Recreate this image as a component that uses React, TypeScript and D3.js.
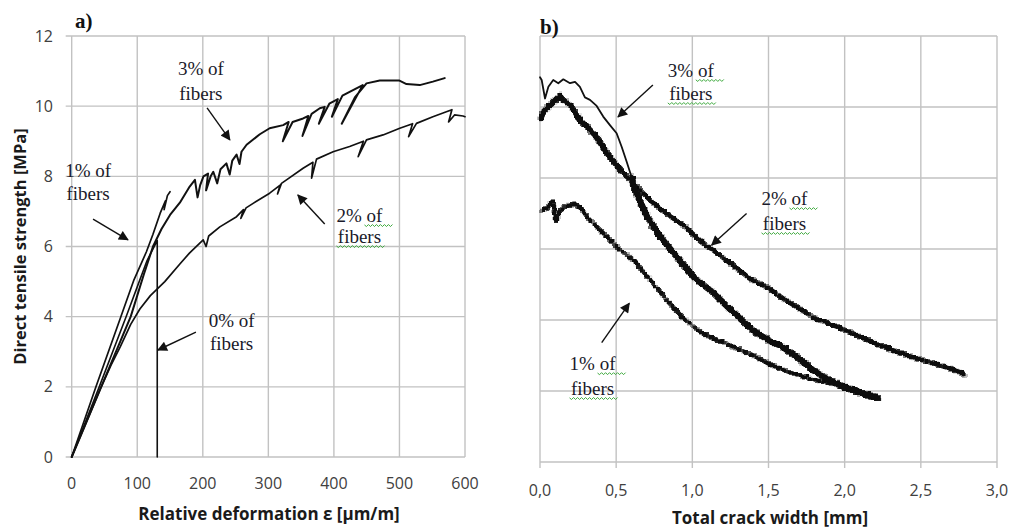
import React from 'react';
import * as d3 from 'd3';

type P = [number, number];

// ---------- Panel a) : strength vs relative deformation ----------
const aXTicks = [0, 100, 200, 300, 400, 500, 600];
const aYTicks = [0, 2, 4, 6, 8, 10, 12];

const a0pct: P[] = [[0, 0], [42, 2.0], [83, 4.0], [100, 4.85], [115, 5.6], [130.5, 6.17], [130.5, 0]];

const a1pct: P[] = [[0, 0], [37, 2.0], [75, 4.0], [95, 5.05], [114, 5.85], [124, 6.35], [135, 6.95], [143, 7.3], [141, 7.05], [146, 7.45], [150, 7.56]];

const a2pct: P[] = [
  [0, 0], [43, 1.91], [60, 2.62], [74, 3.14], [90, 3.78], [104, 4.22], [120, 4.6], [142, 5.0], [165, 5.5], [180, 5.82],
  [200.6, 6.19], [205, 6.0], [209, 6.3], [226, 6.56], [251.5, 6.85], [262, 7.05], [258, 6.8], [266, 7.1], [276.8, 7.23],
  [302, 7.52], [318, 7.75], [314, 7.5], [320, 7.8], [327.7, 7.9], [353, 8.23], [368, 8.4], [366, 7.95], [373.5, 8.49],
  [398.8, 8.7], [424, 8.85], [445, 9.0], [437, 8.56], [449.7, 9.04], [475, 9.18], [500.5, 9.37], [520, 9.5],
  [514, 9.13], [526, 9.51], [551, 9.7], [571.6, 9.84], [580, 9.9], [575, 9.55], [584, 9.75], [597, 9.72], [600, 9.7],
];

const a3pct: P[] = [
  [0, 0], [45, 2.0], [90, 4.0], [110, 5.2], [124, 6.0], [137, 6.5], [150, 6.9], [165, 7.25], [180, 7.71], [188, 7.9], [192, 7.4],
  [196, 7.75], [201, 8.0], [208, 8.08], [205, 7.6], [212, 8.0], [216, 8.13], [222, 7.8], [227, 8.2], [236, 8.37],
  [241, 8.05], [245, 8.45], [251.5, 8.62], [256, 8.35], [259, 8.7], [266.8, 8.9], [287, 9.2], [302, 9.37],
  [322.6, 9.46], [331, 9.55], [322, 9.0], [337, 9.55], [353, 9.65], [361, 9.72], [352, 9.15], [366, 9.78],
  [378.5, 9.94], [386, 9.98], [377, 9.5], [393, 10.07], [398.8, 10.13], [406, 10.2], [397, 9.7], [413, 10.3],
  [424, 10.41], [444, 10.6], [412, 9.5], [432, 10.25], [449.7, 10.65], [470, 10.73], [500, 10.73],
  [510.7, 10.63], [531, 10.6], [551, 10.7], [569, 10.8],
];

// ---------- Panel b) : strength vs total crack width ----------
const bXTicks = [0, 0.5, 1.0, 1.5, 2.0, 2.5, 3.0];
const bXTickLabels = ['0,0', '0,5', '1,0', '1,5', '2,0', '2,5', '3,0'];
const bYTicks = [0, 2, 4, 6, 8, 10, 12];

const b1pct: P[] = [
  [0, 7.1], [0.044, 7.19], [0.077, 7.38], [0.098, 6.82], [0.12, 7.1], [0.164, 7.24], [0.219, 7.29], [0.262, 7.19],
  [0.306, 6.91], [0.394, 6.54], [0.503, 6.06], [0.612, 5.69], [0.722, 5.13], [0.831, 4.56], [0.94, 4.05],
  [1.07, 3.62], [1.225, 3.34], [1.4, 3.01], [1.51, 2.76], [1.64, 2.54], [1.77, 2.37], [1.9, 2.26], [2.01, 2.08],
  [2.12, 1.92], [2.2, 1.82],
];

const b2pct: P[] = [
  [0, 9.73], [0.022, 9.92], [0.066, 10.1], [0.12, 10.34], [0.153, 10.2], [0.197, 10.06], [0.262, 9.63],
  [0.35, 9.26], [0.438, 8.7], [0.525, 8.23], [0.612, 7.85], [0.722, 7.38], [0.831, 7.0], [0.94, 6.68],
  [1.05, 6.25], [1.137, 5.97], [1.268, 5.55], [1.378, 5.17], [1.488, 4.94], [1.597, 4.61], [1.793, 4.09],
  [2.012, 3.72], [2.231, 3.3], [2.45, 2.97], [2.669, 2.68], [2.767, 2.54], [2.78, 2.45],
];

const b3pct: P[] = [
  [0, 10.84], [0.011, 10.76], [0.033, 10.24], [0.055, 10.57], [0.087, 10.76], [0.12, 10.67], [0.153, 10.78],
  [0.197, 10.67], [0.23, 10.71], [0.262, 10.57], [0.295, 10.27], [0.328, 10.2], [0.372, 10.03], [0.415, 9.73],
  [0.459, 9.49], [0.503, 9.26], [0.536, 8.88], [0.569, 8.46], [0.6, 8.04], [0.612, 7.75], [0.7, 6.91],
  [0.787, 6.35], [0.897, 5.78], [1.006, 5.22], [1.115, 4.85], [1.225, 4.4], [1.312, 4.05], [1.4, 3.7],
  [1.51, 3.42], [1.575, 3.3], [1.684, 2.97], [1.793, 2.59], [1.9, 2.31], [2.01, 2.12], [2.12, 1.94], [2.21, 1.84],
];

// ---------- annotations (data coordinates) ----------
type Note = { l1: string; l2: string; tx: number; ty1: number; ty2: number; ax1: number; ay1: number; ax2: number; ay2: number; wavy: boolean };
const aNotes: Note[] = [
  { l1: '3% of', l2: 'fibers', tx: 197, ty1: 10.89, ty2: 10.18, ax1: 206.5, ay1: 9.95, ax2: 241.3, ay2: 9.04, wavy: false },
  { l1: '1% of', l2: 'fibers', tx: 25, ty1: 7.98, ty2: 7.33, ax1: 32.6, ay1: 6.78, ax2: 85.8, ay2: 6.19, wavy: false },
  { l1: '2% of', l2: 'fibers', tx: 439, ty1: 6.7, ty2: 6.1, ax1: 386, ay1: 6.64, ax2: 345, ay2: 7.47, wavy: true },
  { l1: '0% of', l2: 'fibers', tx: 244, ty1: 3.71, ty2: 3.05, ax1: 189.5, ay1: 3.56, ax2: 131.6, ay2: 3.05, wavy: false },
];
const bNotes: Note[] = [
  { l1: '3% of', l2: 'fibers', tx: 0.99, ty1: 10.85, ty2: 10.2, ax1: 0.741, ay1: 10.62, ax2: 0.512, ay2: 9.72, wavy: true },
  { l1: '2% of', l2: 'fibers', tx: 1.605, ty1: 7.24, ty2: 6.54, ax1: 1.356, ay1: 7.0, ax2: 1.127, ay2: 6.11, wavy: true },
  { l1: '1% of', l2: 'fibers', tx: 0.345, ty1: 2.59, ty2: 1.89, ax1: 0.405, ay1: 3.36, ax2: 0.586, ay2: 4.47, wavy: true },
];

// ---------- layout / style ----------
const W = 1013, H = 528;
const PA = { x0: 71.7, x1: 465, y0: 457, y1: 36 };
const PB = { x0: 540, x1: 997, y0: 462, y1: 36 };
const GRID = '#c2c2c2';
const TICK_FONT = "'Open Sans', 'DejaVu Sans', sans-serif";
const SERIF = "'Liberation Serif', 'DejaVu Serif', serif";
const INK = '#111';

function wavyPath(x1: number, x2: number, y: number) {
  let d = `M${x1},${y}`;
  let k = 0;
  for (let x = x1 + 2; x <= x2; x += 2) {
    d += ` L${x},${y + (k % 2 === 0 ? 1.6 : -0.4)}`;
    k++;
  }
  return d;
}

function Notes({ notes, xs, ys }: { notes: Note[]; xs: d3.ScaleLinear<number, number>; ys: d3.ScaleLinear<number, number> }) {
  return (
    <g>
      {notes.map((n, i) => {
        const cx = xs(n.tx);
        const b1 = ys(n.ty1);
        const b2 = ys(n.ty2);
        return (
          <g key={i}>
            <text x={cx} y={b1} textAnchor="middle" fontFamily={SERIF} fontSize={19} fill="#1a1a2a">{n.l1}</text>
            <text x={cx} y={b2} textAnchor="middle" fontFamily={SERIF} fontSize={19} fill="#1a1a2a">{n.l2}</text>
            {n.wavy && (
              <g stroke="#3daa3d" strokeWidth={1} fill="none">
                <path d={wavyPath(cx + 5, cx + 33, b1 + 3)} />
                <path d={wavyPath(cx - 23, cx + 25, b2 + 3)} />
              </g>
            )}
            <line x1={xs(n.ax1)} y1={ys(n.ay1)} x2={xs(n.ax2)} y2={ys(n.ay2)} stroke={INK} strokeWidth={1.4} markerEnd="url(#arrow)" />
          </g>
        );
      })}
    </g>
  );
}

export default function App() {
  const ax = d3.scaleLinear().domain([0, 600]).range([PA.x0, PA.x1]);
  const ay = d3.scaleLinear().domain([0, 12]).range([PA.y0, PA.y1]);
  const bx = d3.scaleLinear().domain([0, 3]).range([PB.x0, PB.x1]);
  const by = d3.scaleLinear().domain([0, 12]).range([PB.y0, PB.y1]);

  const aLine = d3.line<P>().x(d => ax(d[0])).y(d => ay(d[1]));
  const bLine = d3.line<P>().x(d => bx(d[0])).y(d => by(d[1]));

  const split = (pts: P[], s: number): [P[], P[]] => {
    const first = pts.filter(p => p[0] <= s);
    const second = pts.slice(first.length - 1);
    return [first, second];
  };
  const [b3up, b3low] = split(b3pct, 0.6);
  const [b2up, b2low] = split(b2pct, 0.6);

  return (
    <svg width={W} height={H} style={{ position: 'absolute', left: 0, top: 0, background: '#fff' }}>
      <defs>
        <marker id="arrow" viewBox="0 0 10 10" refX={9} refY={5} markerWidth={13} markerHeight={10} markerUnits="userSpaceOnUse" orient="auto">
          <path d="M0,0 L10,5 L0,10 z" fill={INK} />
        </marker>
        <filter id="rough" x="-5%" y="-5%" width="110%" height="110%">
          <feTurbulence type="turbulence" baseFrequency="0.45" numOctaves={2} seed={7} result="n" />
          <feDisplacementMap in="SourceGraphic" in2="n" scale={4} xChannelSelector="R" yChannelSelector="G" result="d" />
          <feMorphology in="d" operator="dilate" radius={0.5} />
        </filter>
      </defs>

      {/* ---------- Panel a ---------- */}
      <g>
        {aYTicks.map(t => (
          <line key={'ah' + t} x1={PA.x0 - 6} x2={PA.x1} y1={ay(t)} y2={ay(t)} stroke={GRID} strokeWidth={1.4} />
        ))}
        {aXTicks.map(t => (
          <line key={'av' + t} x1={ax(t)} x2={ax(t)} y1={PA.y1} y2={PA.y0} stroke={GRID} strokeWidth={1.4} />
        ))}
        {aYTicks.map(t => (
          <text key={'ayt' + t} x={53} y={ay(t) + 5.5} textAnchor="end" fontFamily={TICK_FONT} fontSize={16} fill="#404040">{t}</text>
        ))}
        {aXTicks.map(t => (
          <text key={'axt' + t} x={ax(t)} y={489} textAnchor="middle" fontFamily={TICK_FONT} fontSize={16} fill="#404040">{t}</text>
        ))}
        <g fill="none" stroke={INK} strokeLinejoin="round" strokeLinecap="round">
          <path d={aLine(a0pct) || ''} strokeWidth={1.6} />
          <path d={aLine(a1pct) || ''} strokeWidth={1.7} />
          <path d={aLine(a2pct) || ''} strokeWidth={1.7} />
          <path d={aLine(a3pct) || ''} strokeWidth={2} />
        </g>
        <Notes notes={aNotes} xs={ax} ys={ay} />
        <text x={75} y={28} fontFamily={SERIF} fontWeight="bold" fontSize={21} fill="#111">a)</text>
        <text x={269} y={520} textAnchor="middle" fontFamily={TICK_FONT} fontWeight="bold" fontSize={17} fill="#1a1a1a">Relative deformation ε [µm/m]</text>
        <text transform={`translate(20,${(PA.y0 + PA.y1) / 2}) rotate(-90)`} textAnchor="middle" fontFamily={TICK_FONT} fontWeight="bold" fontSize={16.5} fill="#1a1a1a" dy={6}>Direct tensile strength [MPa]</text>
      </g>

      {/* ---------- Panel b ---------- */}
      <g>
        {bYTicks.map(t => (
          <line key={'bh' + t} x1={PB.x0} x2={PB.x1} y1={by(t)} y2={by(t)} stroke={GRID} strokeWidth={1.4} />
        ))}
        {bXTicks.map(t => (
          <line key={'bv' + t} x1={bx(t)} x2={bx(t)} y1={PB.y1} y2={PB.y0 + 6} stroke={GRID} strokeWidth={1.4} />
        ))}
        {bXTicks.map((t, i) => (
          <text key={'bxt' + t} x={bx(t)} y={496} textAnchor="middle" fontFamily={TICK_FONT} fontSize={16} fill="#404040">{bXTickLabels[i]}</text>
        ))}
        <g fill="none" stroke={INK} strokeLinejoin="round" strokeLinecap="round">
          <path d={bLine(b1pct) || ''} strokeWidth={1.5} filter="url(#rough)" />
          <path d={bLine(b2up) || ''} strokeWidth={3} filter="url(#rough)" />
          <path d={bLine(b2low) || ''} strokeWidth={1.9} filter="url(#rough)" />
          <path d={bLine(b3up) || ''} strokeWidth={1.8} />
          <path d={bLine(b3low) || ''} strokeWidth={3.5} filter="url(#rough)" />
        </g>
        <Notes notes={bNotes} xs={bx} ys={by} />
        <text x={540} y={34} fontFamily={SERIF} fontWeight="bold" fontSize={21} fill="#111">b)</text>
        <text x={770} y={524} textAnchor="middle" fontFamily={TICK_FONT} fontWeight="bold" fontSize={17} fill="#1a1a1a">Total crack width [mm]</text>
      </g>
    </svg>
  );
}
